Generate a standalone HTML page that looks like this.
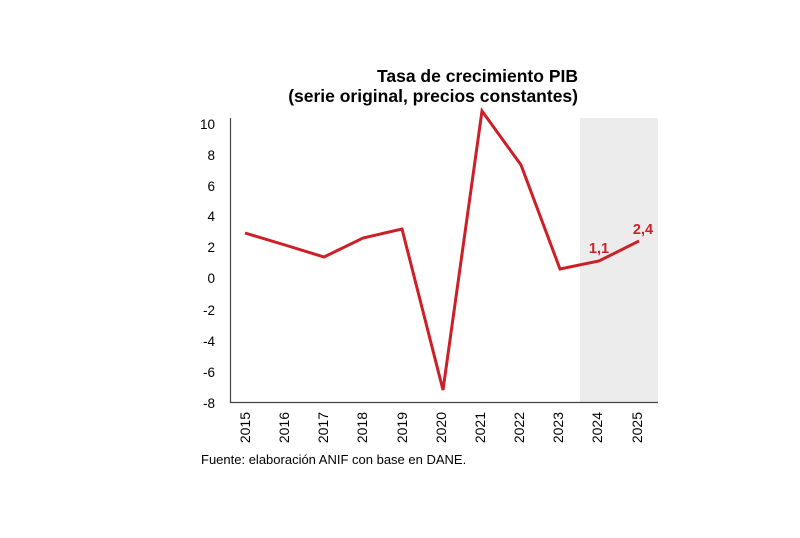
<!DOCTYPE html>
<html><head><style>body{margin:0;background:#fff}</style></head><body>
<svg width="800" height="533" xmlns="http://www.w3.org/2000/svg" font-family="Liberation Sans, Arial, sans-serif">
<rect width="800" height="533" fill="#fff"/>
<rect x="580" y="118" width="78" height="285" fill="#ececec"/>
<text x="578" y="82" font-size="17.5" font-weight="bold" text-anchor="end">Tasa de crecimiento PIB</text>
<text x="578" y="102" font-size="17.5" font-weight="bold" text-anchor="end">(serie original, precios constantes)</text>
<line x1="230.5" y1="118" x2="230.5" y2="403" stroke="#444" stroke-width="1.2"/>
<line x1="230" y1="402.5" x2="658" y2="402.5" stroke="#444" stroke-width="1.2"/>
<g font-size="13.5" text-anchor="end" fill="#000">
<text x="215" y="129">10</text><text x="215" y="160">8</text><text x="215" y="191">6</text>
<text x="215" y="221">4</text><text x="215" y="252">2</text><text x="215" y="283">0</text>
<text x="215" y="315">-2</text><text x="215" y="346">-4</text><text x="215" y="377">-6</text>
<text x="215" y="408">-8</text>
</g>
<g font-size="14" text-anchor="end">
<text transform="translate(250,412) rotate(-90)">2015</text>
<text transform="translate(289,412) rotate(-90)">2016</text>
<text transform="translate(328,412) rotate(-90)">2017</text>
<text transform="translate(367,412) rotate(-90)">2018</text>
<text transform="translate(407,412) rotate(-90)">2019</text>
<text transform="translate(446,412) rotate(-90)">2020</text>
<text transform="translate(485,412) rotate(-90)">2021</text>
<text transform="translate(524,412) rotate(-90)">2022</text>
<text transform="translate(563,412) rotate(-90)">2023</text>
<text transform="translate(602,412) rotate(-90)">2024</text>
<text transform="translate(642,412) rotate(-90)">2025</text>
</g>
<polyline fill="none" stroke="#cc1f27" stroke-width="3" stroke-linejoin="miter" points="245,233 285,245 324,257 363,238 402,229 443,390 482,111 521,165 560,269 599,261 639,241"/>
<text x="599" y="253" font-size="14.5" font-weight="bold" fill="#cc1f27" text-anchor="middle">1,1</text>
<text x="643" y="234" font-size="14.5" font-weight="bold" fill="#cc1f27" text-anchor="middle">2,4</text>
<text x="201" y="464" font-size="13">Fuente: elaboración ANIF con base en DANE.</text>
</svg>
</body></html>
